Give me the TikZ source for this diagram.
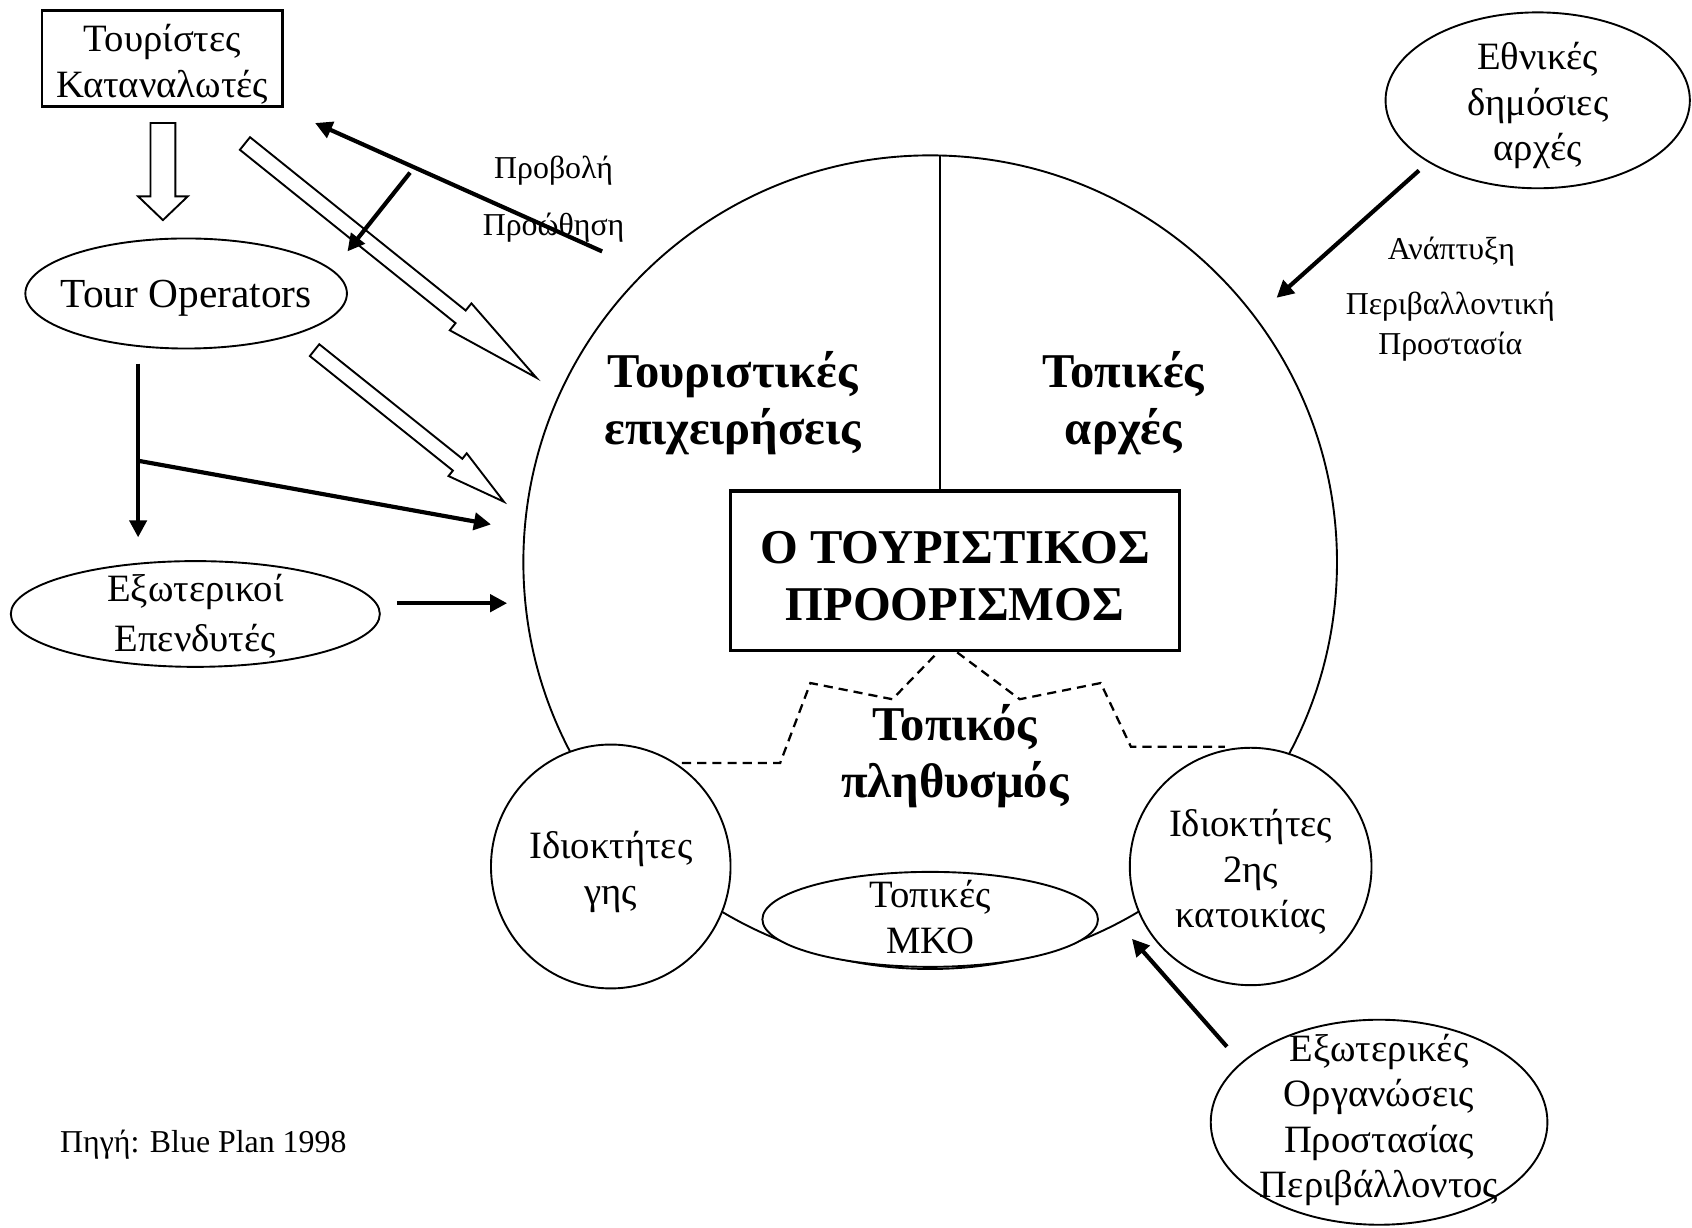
\documentclass[tikz,border=0pt]{standalone}
\usepackage{fontspec}
\setmainfont{Liberation Serif}
\usetikzlibrary{arrows.meta,positioning,calc,shapes.geometric}

% hollow block arrow: tail, tip, shaft half width, head half width, head length
\newcommand{\hollowarrow}[5]{%
  \coordinate (hb) at ($(#2)!#5!(#1)$);
  \draw[hollow] ($(#1)!#3!90:(#2)$) -- ($(hb)!#3!90:(#2)$) -- ($(hb)!#4!90:(#2)$) -- (#2)
    -- ($(hb)!#4!-90:(#2)$) -- ($(hb)!#3!-90:(#2)$) -- ($(#1)!#3!-90:(#2)$) -- cycle;
}

\begin{document}
\begin{tikzpicture}[>={Triangle[length=4.5pt,width=4.5pt]}]
\tikzstyle{txt}=[font=\fontsize{10.2}{12}\selectfont, align=center, inner sep=0pt, yshift=-0.05cm]
\tikzstyle{small}=[font=\fontsize{8.4}{10.5}\selectfont, align=center, inner sep=0pt]
\tikzstyle{heading}=[font=\bfseries\fontsize{12.8}{15}\selectfont, align=center, inner sep=0pt]
\tikzstyle{oval}=[draw, ellipse, fill=white, line width=0.5pt, inner sep=0pt]
\tikzstyle{hollow}=[draw, fill=white, line width=0.5pt]
\tikzstyle{link}=[->, line width=1.1pt]
\tikzstyle{border}=[line width=0.6pt, dash pattern=on 2.4pt off 1.6pt]
\useasboundingbox (0,0) rectangle (15.68,11.38);

% the destination
\node[draw, circle, minimum size=7.54cm, line width=0.5pt] (area) at (8.62,6.17) {};
\node[oval, minimum width=2.22cm, minimum height=2.26cm, label={[txt]center:Ιδιοκτήτες\\γης}] (land) at (5.66,3.35) {};
\node[oval, minimum width=2.24cm, minimum height=2.2cm, label={[txt]center:Ιδιοκτήτες\\2ης\\κατοικίας}] (second) at (11.59,3.35) {};
\node[oval, minimum width=3.11cm, minimum height=0.88cm, label={[txt,yshift=0.07cm]center:Τοπικές\\ΜΚΟ}] (ngo) at (8.62,2.86) {};
\node[draw, line width=0.9pt, minimum width=4.16cm, minimum height=1.48cm, label={[heading,yshift=-0.05cm]center:Ο ΤΟΥΡΙΣΤΙΚΟΣ\\ΠΡΟΟΡΙΣΜΟΣ}] (dest) at (8.85,6.09) {};
\coordinate (divtop) at (8.71,9.94);
\draw[line width=0.5pt] (divtop) -- (dest.north -| divtop);
\node[heading] (busi) at (6.79,7.64) {Τουριστικές\\επιχειρήσεις};
\node[heading] (locauth) at (10.41,7.64) {Τοπικές\\αρχές};
\node[heading] (pop) at (8.85,4.37) {Τοπικός\\πληθυσμός};
\draw[border] (6.32,4.31) -- (7.23,4.31) -- (7.51,5.05) -- (8.27,4.90) -- ($(dest.south)+(-0.16,0)$);
\draw[border] ($(dest.south)+(0.02,0)$) -- (9.45,4.90) -- (10.20,5.05) -- (10.48,4.46) -- (11.35,4.46);

% outside actors
\node[draw, line width=0.7pt, minimum width=2.23cm, minimum height=0.89cm, label={[txt]center:Τουρίστες\\Καταναλωτές}] (tourists) at (1.505,10.835) {};
\node[oval, minimum width=2.98cm, minimum height=1.02cm, label={[txt,font=\fontsize{10.9}{12}\selectfont,yshift=0.01cm]center:Tour Operators}] (tourop) at (1.725,8.66) {};
\node[oval, minimum width=3.42cm, minimum height=0.98cm, label={[txt,font=\fontsize{10.2}{13}\selectfont,yshift=0.03cm]center:Εξωτερικοί\\Επενδυτές}] (invest) at (1.81,5.69) {};
\node[oval, minimum width=2.82cm, minimum height=1.63cm, label={[txt]center:Εθνικές\\δημόσιες\\αρχές}] (national) at (14.25,10.45) {};
\node[oval, minimum width=3.12cm, minimum height=1.9cm, label={[txt,yshift=0.07cm]center:Εξωτερικές\\Οργανώσεις\\Προστασίας\\Περιβάλλοντος}] (extorg) at (12.78,0.98) {};

% hollow flows
\coordinate (d0) at (1.51,10.24);
\coordinate (d1) at (1.51,9.34);
\hollowarrow{d0}{d1}{0.115cm}{0.23cm}{0.22cm}
\coordinate (h0) at (2.27,10.05);
\coordinate (h1) at (4.97,7.88);
\hollowarrow{h0}{h1}{0.075cm}{0.16cm}{0.9cm}
\coordinate (k0) at (2.915,8.135);
\coordinate (k1) at (4.67,6.73);
\hollowarrow{k0}{k1}{0.07cm}{0.135cm}{0.55cm}

% black flows
\coordinate (p0) at (5.58,9.05);
\coordinate (p1) at (2.92,10.24);
\draw[link] (p0) -- (p1);
\coordinate (q0) at (3.80,9.78);
\coordinate (q1) at (3.22,9.05);
\draw[link] (q0) -- (q1);
\node[small] (promo) at (5.13,9.80) {Προβολή};
\node[small] (push) at (5.13,9.27) {Προώθηση};
\coordinate (o0) at (1.28,8.01);
\coordinate (o1) at (1.28,6.40);
\coordinate (ob) at (1.28,7.11);
\coordinate (o2) at (4.55,6.52);
\draw[link] (o0) -- (o1);
\draw[link] (ob) -- (o2);
\coordinate (i1) at (4.70,5.79);
\draw[link] (invest.east |- i1) ++(0.15,0) -- (i1);
\coordinate (n0) at (13.15,9.80);
\coordinate (n1) at (11.83,8.62);
\draw[link] (n0) -- (n1);
\node[small] (devel) at (13.45,9.05) {Ανάπτυξη};
\node[small] (envprot) at (13.44,8.35) {Περιβαλλοντική\\Προστασία};
\coordinate (e0) at (11.37,1.68);
\coordinate (e1) at (10.49,2.68);
\draw[link] (e0) -- (e1);

\node[small, anchor=west] (source) at (0.55,0.77) {Πηγή: Blue Plan 1998};
\end{tikzpicture}
\end{document}
